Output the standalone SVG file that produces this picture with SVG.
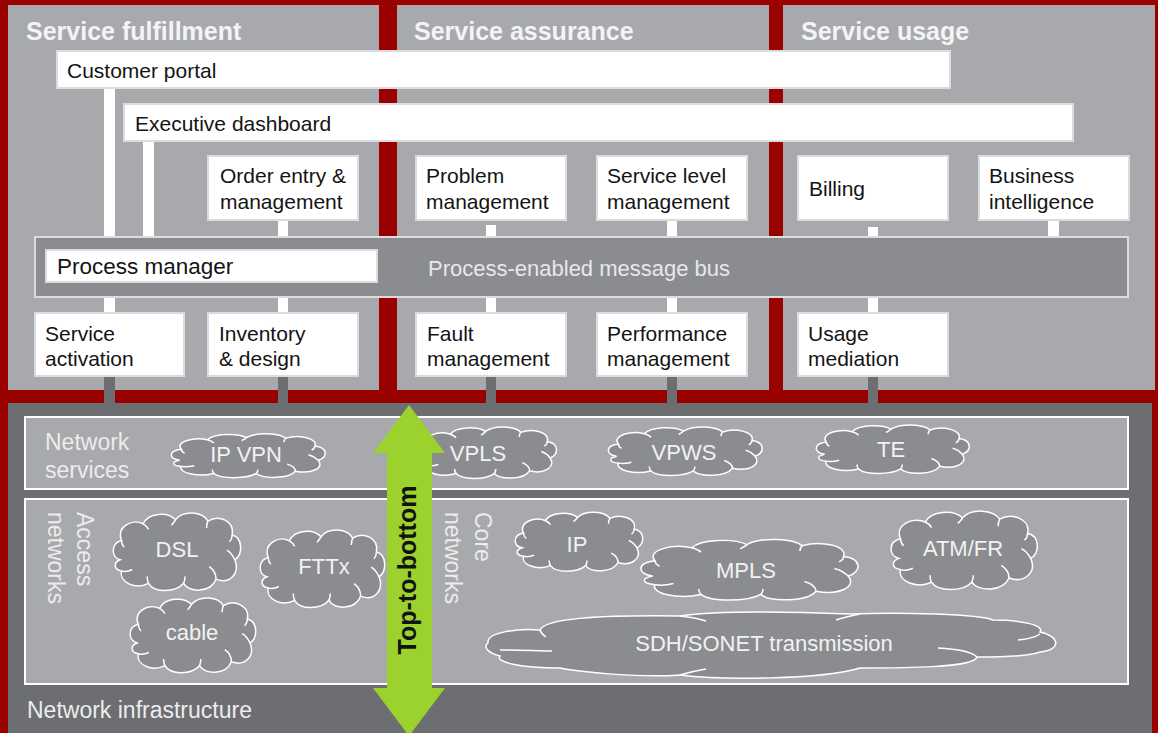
<svg xmlns="http://www.w3.org/2000/svg" xmlns:xlink="http://www.w3.org/1999/xlink" width="1158" height="733" viewBox="0 0 1158 733">
<style>
.panel{fill:#a8a9ad}
.box{fill:#ffffff;stroke:#dcdcde;stroke-width:2}
.t{font-family:"Liberation Sans",Arial,sans-serif;font-size:21px;fill:#141414}
.hdr{font-family:"Liberation Sans",Arial,sans-serif;font-size:25px;font-weight:bold;fill:#f4f4f4}
.lt{font-family:"Liberation Sans",Arial,sans-serif;font-size:23px;fill:#ececec}
.cl{fill:#8b8c90;stroke:#ffffff;stroke-width:1.5;vector-effect:non-scaling-stroke}
.cli{fill:none;stroke:#ffffff;stroke-width:1.5;vector-effect:non-scaling-stroke}
.ct{font-family:"Liberation Sans",Arial,sans-serif;font-size:22px;fill:#f2f2f2;text-anchor:middle}
.cw{fill:#ffffff}
.cd{fill:#6d6e72}
.nbox{fill:#a8a9ad;stroke:#ffffff;stroke-width:2}
</style>
<defs>
<symbol id="cloud" viewBox="0 0 100 60" preserveAspectRatio="none" overflow="visible">
<path class="cl" d="M9,36 C2,34 2,24 10,22 C6,12 18,6 26,10 C30,2 44,1 50,7 C56,0 70,1 74,8 C82,3 94,8 92,18 C100,20 100,32 94,36 C98,46 90,54 80,50 C76,60 60,60 56,53 C50,60 34,60 30,53 C20,58 8,52 10,44 C4,43 4,38 9,36 Z"/>
<path class="cli" d="M10,44 C13,45 16,44 18,43 M30,53 C29,51 29,50 29,48 M56,53 C57,51 57,50 57,48 M80,50 C80,46 78,43 75,41 M94,36 C92,32 90,30 88,29 M92,18 C92,20 91,22 90,23 M74,8 C73,10 73,12 73,13 M50,7 C49,9 48,10 47,11 M26,10 C28,11 29,12 30,14 M10,22 C10,24 11,26 12,27"/>
</symbol>
</defs>
<rect x="0" y="0" width="1158" height="733" fill="#990000"/>
<g id="panel-fulfillment"><rect class="panel" x="8" y="5" width="371" height="385"/><text class="hdr" x="26" y="40">Service fulfillment</text></g>
<g id="panel-assurance"><rect class="panel" x="397" y="5" width="372" height="385"/><text class="hdr" x="414" y="40">Service assurance</text></g>
<g id="panel-usage"><rect class="panel" x="783" y="5" width="372" height="385"/><text class="hdr" x="801" y="40">Service usage</text></g>
<g id="network-infrastructure"><rect x="8" y="403" width="1144" height="330" fill="#6d6e72"/><text class="lt" x="27" y="718">Network infrastructure</text></g>
<g id="connectors">
<rect class="cw" x="104" y="88" width="11" height="150"/>
<rect class="cw" x="143" y="141" width="11" height="97"/>
<rect class="cw" x="278" y="220" width="10" height="18"/>
<rect class="cw" x="486" y="225" width="10" height="13"/>
<rect class="cw" x="667" y="220" width="10" height="18"/>
<rect class="cw" x="868" y="227" width="10" height="11"/>
<rect class="cw" x="1048" y="220" width="11" height="18"/>
<rect class="cw" x="104" y="296" width="11" height="18"/>
<rect class="cw" x="278" y="296" width="10" height="18"/>
<rect class="cw" x="486" y="296" width="10" height="18"/>
<rect class="cw" x="667" y="296" width="10" height="18"/>
<rect class="cw" x="868" y="296" width="10" height="18"/>
<rect class="cd" x="104" y="376" width="11" height="28"/>
<rect class="cd" x="278" y="376" width="10" height="28"/>
<rect class="cd" x="486" y="376" width="10" height="28"/>
<rect class="cd" x="667" y="376" width="10" height="28"/>
<rect class="cd" x="868" y="376" width="10" height="28"/>
</g>
<g id="customer-portal"><rect class="box" x="57" y="51" width="893" height="37"/><text class="t" x="67" y="78">Customer portal</text></g>
<g id="executive-dashboard"><rect class="box" x="124" y="104" width="949" height="37"/><text class="t" x="135" y="131">Executive dashboard</text></g>
<g id="order-entry"><rect class="box" x="208" y="156" width="150" height="64"/><text class="t" x="220" y="183">Order entry &amp;</text><text class="t" x="220" y="209">management</text></g>
<g id="problem-management"><rect class="box" x="416" y="156" width="150" height="64"/><text class="t" x="426" y="183">Problem</text><text class="t" x="426" y="209">management</text></g>
<g id="service-level-management"><rect class="box" x="597" y="156" width="150" height="64"/><text class="t" x="607" y="183">Service level</text><text class="t" x="607" y="209">management</text></g>
<g id="billing"><rect class="box" x="798" y="156" width="150" height="64"/><text class="t" x="809" y="196">Billing</text></g>
<g id="business-intelligence"><rect class="box" x="979" y="156" width="150" height="64"/><text class="t" x="989" y="183">Business</text><text class="t" x="989" y="209">intelligence</text></g>
<g id="message-bus"><rect x="35" y="237" width="1093" height="60" fill="#8b8c90" stroke="#dcdcde" stroke-width="2"/><text x="428" y="276" font-family="Liberation Sans, Arial, sans-serif" font-size="22" fill="#e8e8e8">Process-enabled message bus</text></g>
<g id="process-manager"><rect class="box" x="46" y="250" width="331" height="32"/><text x="57" y="274" font-family="Liberation Sans, Arial, sans-serif" font-size="22.5" fill="#141414">Process manager</text></g>
<g id="service-activation"><rect class="box" x="35" y="313" width="149" height="63"/><text class="t" x="45" y="341">Service</text><text class="t" x="45" y="366">activation</text></g>
<g id="inventory-design"><rect class="box" x="208" y="313" width="150" height="63"/><text class="t" x="219" y="341">Inventory</text><text class="t" x="219" y="366">&amp; design</text></g>
<g id="fault-management"><rect class="box" x="416" y="313" width="150" height="63"/><text class="t" x="427" y="341">Fault</text><text class="t" x="427" y="366">management</text></g>
<g id="performance-management"><rect class="box" x="597" y="313" width="150" height="63"/><text class="t" x="607" y="341">Performance</text><text class="t" x="607" y="366">management</text></g>
<g id="usage-mediation"><rect class="box" x="798" y="313" width="150" height="63"/><text class="t" x="808" y="341">Usage</text><text class="t" x="808" y="366">mediation</text></g>
<g id="network-services">
<rect class="nbox" x="25" y="417" width="1103" height="72"/>
<text class="lt" x="45" y="450">Network</text><text class="lt" x="45" y="478">services</text>
<use xlink:href="#cloud" x="165" y="432" width="163" height="47"/><text class="ct" x="246" y="462">IP VPN</text>
<use xlink:href="#cloud" x="412" y="425" width="147" height="55"/><text class="ct" x="478" y="461">VPLS</text>
<use xlink:href="#cloud" x="602" y="425" width="163" height="52"/><text class="ct" x="684" y="460">VPWS</text>
<use xlink:href="#cloud" x="810" y="423" width="162" height="52"/><text class="ct" x="891" y="457">TE</text>
</g>
<g id="networks">
<rect class="nbox" x="25" y="499" width="1103" height="185"/>
<text class="lt" font-size="22" transform="translate(77,512) rotate(90)">Access</text>
<text class="lt" font-size="22" transform="translate(48,512) rotate(90)">networks</text>
<text class="lt" font-size="22" transform="translate(475,512) rotate(90)">Core</text>
<text class="lt" font-size="22" transform="translate(445,512) rotate(90)">networks</text>
<use xlink:href="#cloud" x="108" y="510" width="135" height="83"/><text class="ct" x="177" y="557">DSL</text>
<use xlink:href="#cloud" x="255" y="527" width="132" height="83"/><text class="ct" x="324" y="574">FTTx</text>
<use xlink:href="#cloud" x="125" y="595" width="133" height="80"/><text class="ct" x="192" y="640">cable</text>
<use xlink:href="#cloud" x="510" y="510" width="135" height="63"/><text class="ct" x="577" y="552">IP</text>
<use xlink:href="#cloud" x="632" y="537" width="230" height="65"/><text class="ct" x="746" y="578">MPLS</text>
<use xlink:href="#cloud" x="885" y="508" width="155" height="84"/><text class="ct" x="963" y="556">ATM/FR</text>
<path class="cl" d="M488,643 C486,632 520,628 540,630 C545,618 600,615 680,616 C720,610 800,612 850,614 C900,612 980,614 993,620 C1020,620 1045,625 1040,632 C1060,636 1062,650 1040,652 C1030,656 1000,657 977,657 C975,668 900,668 860,668 C820,680 720,680 680,675 C640,678 580,672 560,668 C520,668 495,662 500,656 C485,652 484,646 488,643 Z"/>
<path class="cli" d="M500,650 C520,650 540,651 552,651 M540,630 C541,633 543,635 546,637 M1018,640 C1028,639 1036,637 1040,634 M938,648 C958,649 972,652 977,657 M680,616 C690,617 700,619 706,621 M860,614 C850,616 842,618 836,620 M680,675 C690,672 700,670 706,669"/>
<text class="ct" x="764" y="651" font-size="23">SDH/SONET transmission</text>
</g>
<g id="top-to-bottom-arrow">
<polygon points="409,405 445,453 432,453 432,688 445,688 409,736 373,688 387,688 387,453 373,453" fill="#9bd22d"/>
<text transform="translate(416,570) rotate(-90)" text-anchor="middle" font-family="Liberation Sans, Arial, sans-serif" font-size="25" font-weight="bold" fill="#111111">Top-to-bottom</text>
</g>
</svg>
